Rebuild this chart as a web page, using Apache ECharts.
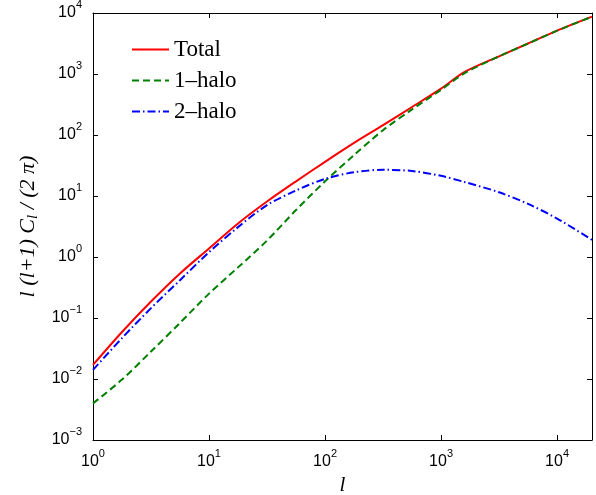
<!DOCTYPE html>
<html><head><meta charset="utf-8">
<script src="https://cdn.jsdelivr.net/npm/echarts@6/dist/echarts.min.js"></script>
<style>html,body{margin:0;padding:0;background:#fff}#c{width:596px;height:495px}</style>
</head><body><div id="c"></div>
<script>
// multipole l
const ell = [1, 1.778, 3.162, 5.623, 10, 17.78, 31.62, 56.23, 100, 177.8, 316.2, 562.3, 1000, 1585, 3162, 5623, 10000, 20000];
// l(l+1)C_l/(2π)
const total   = [0.0170, 0.0589, 0.186, 0.537, 1.38, 3.55, 8.13, 17.4, 36.3, 74.1, 145, 288, 575, 1072, 1950, 3162, 5129, 8710];
const oneHalo = [0.00398, 0.00977, 0.0282, 0.0832, 0.251, 0.676, 1.86, 5.89, 17.4, 46.8, 120, 263, 550, 1023, 1950, 3162, 5129, 8710];
const twoHalo = [0.0141, 0.0468, 0.145, 0.417, 1.20, 3.09, 7.08, 12.3, 19.1, 24.5, 26.9, 25.7, 21.4, 17.0, 11.5, 7.41, 4.27, 1.91];
const seriesNames = ['Total', '1\u2013halo', '2\u2013halo'];
const xRange = [1, 20000];
const yRange = [1e-3, 1e4];

const toPairs = (ys) => ell.map((x, i) => [x, ys[i]]);
const supFmt = (v) => {
  const e = Math.log10(v);
  const r = Math.round(e);
  if (Math.abs(e - r) > 1e-6) return '';
  return '{b|10}{s|' + String(r).replace('-', '\u2212') + '}';
};
const tickRich = {
  b: {fontSize: 16, fontFamily: 'Liberation Sans', color: '#000'},
  s: {fontSize: 11, fontFamily: 'Liberation Sans', color: '#000', padding: [0, 0, 17, 0]}
};
const frameAxis = {
  axisLine: {show: true, onZero: false, lineStyle: {color: '#000', width: 1}},
  axisTick: {show: true, inside: true, length: 5, lineStyle: {color: '#000', width: 1}},
  splitLine: {show: false},
  minorTick: {show: false}
};
const chart = echarts.init(document.getElementById('c'), null, {renderer: 'canvas'});
chart.setOption({
  animation: false,
  backgroundColor: '#fff',
  grid: {left: 93, right: 4, top: 13, bottom: 55, containLabel: false, outerBoundsMode: 'none'},
  legend: {
    orient: 'vertical', left: 126, top: 33, itemWidth: 37, itemHeight: 10, itemGap: 8,
    itemStyle: {opacity: 0},
    textStyle: {fontSize: 23, fontFamily: 'Liberation Serif', color: '#000', lineHeight: 23},
    data: seriesNames
  },
  xAxis: [
    Object.assign({
      type: 'log', logBase: 10, min: xRange[0], max: xRange[1], position: 'bottom',
      name: 'l', nameLocation: 'middle', nameGap: 34,
      nameTextStyle: {fontSize: 21, fontFamily: 'Liberation Serif', fontStyle: 'italic', color: '#000'},
      axisLabel: {show: true, margin: 8, formatter: supFmt, rich: tickRich, showMaxLabel: false}
    }, frameAxis),
    Object.assign({
      type: 'log', logBase: 10, min: xRange[0], max: xRange[1], position: 'top',
      axisLabel: {show: false}
    }, frameAxis)
  ],
  yAxis: [
    Object.assign({
      type: 'log', logBase: 10, min: yRange[0], max: yRange[1], position: 'left',
      name: '{i|l (l+1) C}{sub|l}{i| / (2 \u03c0)}', nameLocation: 'middle', nameGap: 49, nameRotate: 90,
      nameTextStyle: {
        rich: {
          i: {fontSize: 22, fontFamily: 'Liberation Serif', fontStyle: 'italic', color: '#000'},
          sub: {fontSize: 15, fontFamily: 'Liberation Serif', fontStyle: 'italic', color: '#000', padding: [10, 0, 0, 0]}
        }
      },
      axisLabel: {show: true, margin: 11, formatter: supFmt, rich: tickRich}
    }, frameAxis),
    Object.assign({
      type: 'log', logBase: 10, min: yRange[0], max: yRange[1], position: 'right',
      axisLabel: {show: false}
    }, frameAxis)
  ],
  series: [
    {name: seriesNames[0], type: 'line', data: toPairs(total), showSymbol: false, symbol: 'none',
     smooth: 0.3, lineStyle: {color: '#ff0000', width: 2, type: 'solid'}, itemStyle: {color: '#ff0000'}},
    {name: seriesNames[1], type: 'line', data: toPairs(oneHalo), showSymbol: false, symbol: 'none',
     smooth: 0.3, lineStyle: {color: '#008000', width: 2, type: [7, 4]}, itemStyle: {color: '#008000'}},
    {name: seriesNames[2], type: 'line', data: toPairs(twoHalo), showSymbol: false, symbol: 'none',
     smooth: 0.3, lineStyle: {color: '#0000ff', width: 2, type: [8, 3, 1.5, 3]}, itemStyle: {color: '#0000ff'}}
  ]
});
</script>
</body></html>
